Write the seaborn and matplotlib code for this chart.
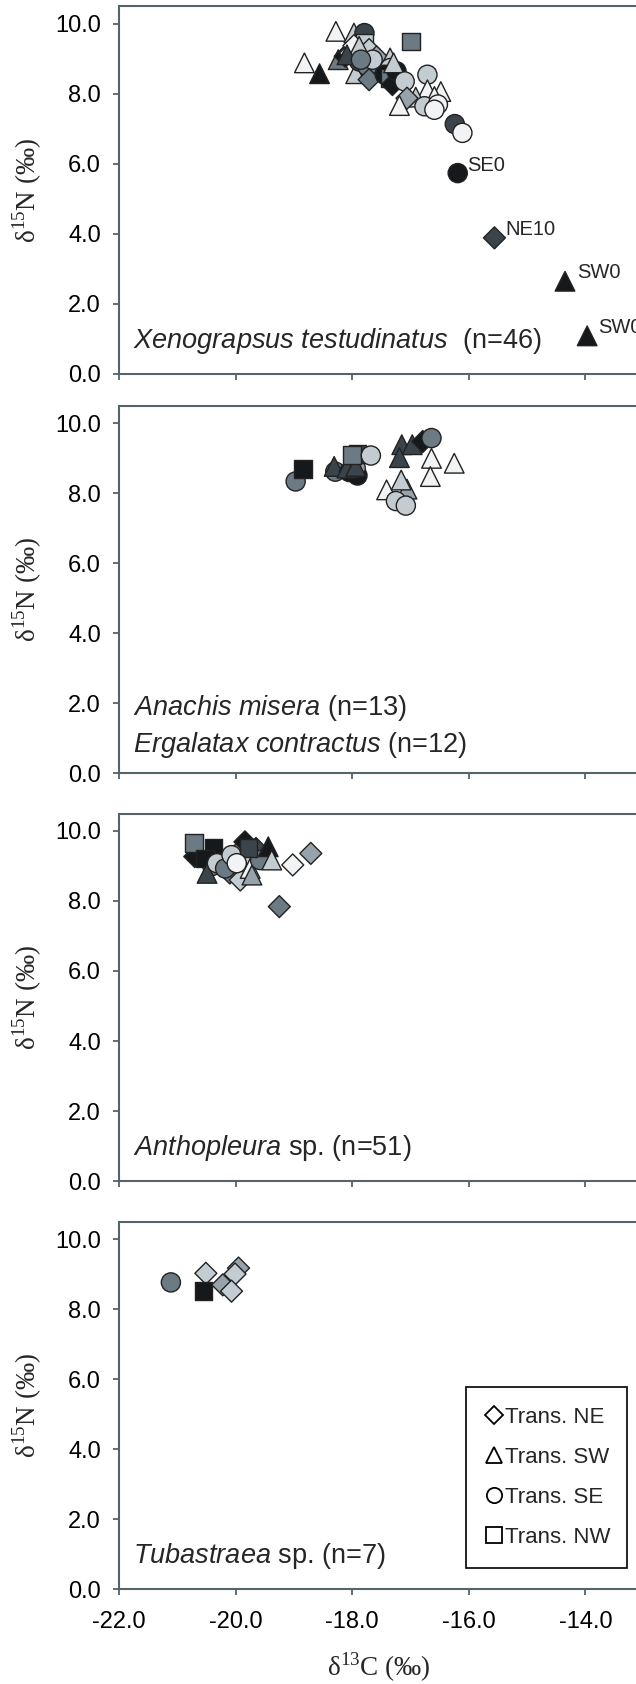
import numpy as np
import pandas as pd
import matplotlib
matplotlib.use("Agg")
import matplotlib.pyplot as plt
from matplotlib.lines import Line2D
import seaborn as sns

sns.set_style("ticks")
plt.rcParams["font.family"] = ["Liberation Sans", "DejaVu Sans"]
plt.rcParams["mathtext.fontset"] = "custom"
plt.rcParams["mathtext.rm"] = "Liberation Serif"
plt.rcParams["mathtext.it"] = "Liberation Sans:italic"

# ── Data (δ13C, δ15N, transect, grey shade) ───────────────────
xeno_c = [-18.28, -17.97, -17.79, -17.79, -16.99, -18.82, -18.56, -18.24, -18.12, -18.03,
          -17.97, -17.94, -17.88, -17.74, -17.71, -17.58, -17.71, -17.88, -17.65, -18.09,
          -17.35, -17.35, -17.44, -17.29, -17.36, -17.31, -17.24, -17.29, -17.10, -16.71,
          -16.71, -16.48, -16.59, -16.91, -17.06, -17.19, -16.76, -16.53, -16.59, -16.24,
          -16.11, -16.19, -15.56, -14.35, -13.97, -17.85]
xeno_n = [9.79, 9.74, 9.74, 9.46, 9.50, 8.89, 8.58, 8.98, 9.08, 9.17,
          9.38, 8.58, 8.93, 8.79, 9.27, 9.06, 8.41, 9.36, 8.98, 9.12,
          9.03, 8.74, 8.55, 8.65, 8.46, 8.27, 8.65, 8.89, 8.36, 8.55,
          8.12, 8.07, 7.93, 7.91, 7.88, 7.67, 7.65, 7.70, 7.55, 7.14,
          6.89, 5.74, 3.89, 2.65, 1.09, 8.98]
xeno_t = ["SW", "SW", "SE", "NW", "NW", "SW", "SW", "SW", "NE", "NE",
          "NE", "SW", "SE", "SE", "NE", "NE", "NE", "SW", "SE", "SW",
          "SW", "SE", "SE", "SW", "NW", "NE", "SE", "SW", "SE", "SE",
          "SW", "SW", "SW", "SW", "NE", "SW", "SE", "SE", "SE", "SE",
          "SE", "SE", "NE", "SW", "SW", "SE"]
xeno_g = ["w", "l", "dd", "l", "d", "w", "k", "d", "k", "l",
          "w", "l", "dd", "d", "l", "m", "d", "l", "l", "dd",
          "l", "l", "k", "k", "d", "k", "k", "l", "l", "l",
          "w", "w", "w", "l", "m", "w", "l", "w", "w", "dd",
          "w", "k", "dd", "k", "k", "d"]

gast_c = [-18.97, -18.84, -18.29, -18.31, -18.05, -17.91, -17.94, -18.09, -17.94, -17.91,
          -18.00, -17.68, -17.15, -16.97, -17.19, -16.79, -16.64, -16.64, -16.25, -16.66,
          -17.41, -17.06, -17.16, -17.25, -17.08]
gast_n = [8.33, 8.69, 8.61, 8.76, 8.60, 8.50, 8.71, 8.71, 8.76, 9.11,
          9.09, 9.07, 9.38, 9.38, 9.01, 9.47, 9.57, 8.99, 8.85, 8.47,
          8.09, 8.11, 8.37, 7.77, 7.64]
gast_t = ["SE", "NW", "SE", "SW", "SE", "SE", "SE", "SW", "SW", "NW",
          "NW", "SE", "SW", "SW", "SW", "NE", "SE", "SW", "SW", "SW",
          "SW", "SW", "SW", "SE", "SE"]
gast_g = ["d", "k", "d", "dd", "k", "k", "m", "dd", "dd", "dd",
          "d", "l", "dd", "dd", "dd", "k", "d", "w", "w", "w",
          "w", "m", "l", "l", "l"]

anth_c = [-20.70, -20.25, -20.40, -20.10, -19.95, -19.70, -19.90, -19.65, -19.84, -20.38,
          -20.71, -20.52, -20.49, -20.32, -20.18, -20.07, -19.92, -19.75, -19.72, -19.58,
          -19.44, -19.38, -19.78, -19.98, -19.02, -18.71, -19.25]
anth_n = [9.27, 9.20, 9.00, 8.80, 9.35, 9.20, 8.85, 9.50, 9.69, 9.51,
          9.65, 9.22, 8.79, 9.08, 8.93, 9.31, 8.60, 8.93, 8.74, 9.17,
          9.55, 9.17, 9.51, 9.08, 9.03, 9.36, 7.84]
anth_t = ["NE", "SE", "SE", "NE", "SE", "SE", "SW", "NE", "NE", "NW",
          "NW", "NW", "SW", "SE", "SE", "SE", "NE", "SW", "SW", "SE",
          "SW", "SW", "NW", "SE", "NE", "NE", "NE"]
anth_g = ["k", "m", "d", "d", "m", "l", "l", "dd", "k", "k",
          "d", "k", "dd", "l", "d", "l", "l", "w", "m", "d",
          "k", "l", "dd", "w", "w", "m", "d"]

tuba_c = [-21.11, -20.51, -20.55, -20.22, -19.95, -20.01, -20.07]
tuba_n = [8.76, 9.02, 8.52, 8.69, 9.17, 9.00, 8.51]
tuba_t = ["SE", "NE", "NW", "NE", "NE", "NE", "NE"]
tuba_g = ["d", "l", "k", "m", "m", "l", "l"]

point_labels = [("SE0", -16.02, 5.95), ("NE10", -15.38, 4.12),
                ("SW0", -14.14, 2.90), ("SW0", -13.78, 1.32)]

species = [
    [r"$\mathit{Xenograpsus\ testudinatus}$  (n=46)"],
    [r"$\mathit{Anachis\ misera}$ (n=13)", r"$\mathit{Ergalatax\ contractus}$ (n=12)"],
    [r"$\mathit{Anthopleura}$ sp. (n=51)"],
    [r"$\mathit{Tubastraea}$ sp. (n=7)"],
]

transects = ["NE", "SW", "SE", "NW"]
legend_labels = ["Trans. NE", "Trans. SW", "Trans. SE", "Trans. NW"]
markers = {"NE": "D", "SW": "^", "SE": "o", "NW": "s"}
sizes = {"NE": 125, "SW": 200, "SE": 190, "NW": 160}
shades = {"w": "#f1f3f4", "l": "#c3ccd0", "m": "#97a3aa",
          "d": "#6b7a83", "dd": "#3a444a", "k": "#15191b"}

panels = [
    pd.DataFrame({"c13": xeno_c, "n15": xeno_n, "tr": xeno_t, "shade": xeno_g}),
    pd.DataFrame({"c13": gast_c, "n15": gast_n, "tr": gast_t, "shade": gast_g}),
    pd.DataFrame({"c13": anth_c, "n15": anth_n, "tr": anth_t, "shade": anth_g}),
    pd.DataFrame({"c13": tuba_c, "n15": tuba_n, "tr": tuba_t, "shade": tuba_g}),
]

# ── Figure ────────────────────────────────────────────────────
W, H = 636, 1684
fig = plt.figure(figsize=(W / 100, H / 100), dpi=100)

spine_col = "#56636b"
left_px, px_per_unit = 119, 58.3
xmin, xmax = -22, -13.1
ax_w = (xmax - xmin) * px_per_unit / W
ax_h = 10.5 * 35.0 / H
zero_px = [374, 773, 1181, 1589]

for i, df in enumerate(panels):
    ax = fig.add_axes([left_px / W, 1 - zero_px[i] / H, ax_w, ax_h])
    sns.scatterplot(data=df, x="c13", y="n15", hue="shade", style="tr", size="tr",
                    palette=shades, markers=markers, sizes=sizes,
                    edgecolor="#222222", linewidth=1.0, alpha=1, legend=False, ax=ax)
    ax.set_xlim(xmin, xmax)
    ax.set_ylim(0, 10.5)
    ax.set_xticks([-22, -20, -18, -16, -14])
    ax.set_yticks([0, 2, 4, 6, 8, 10])
    ax.set_yticklabels([f"{v:.1f}" for v in [0, 2, 4, 6, 8, 10]])
    if i == 3:
        ax.set_xticklabels([f"{v:.1f}" for v in [-22, -20, -18, -16, -14]])
        ax.set_xlabel(r"δ$^{13}$C (‰)", family="Liberation Serif",
                      fontsize=19.5, labelpad=12)
    else:
        ax.set_xticklabels([])
        ax.set_xlabel("")
    ax.set_ylabel(r"δ$^{15}$N (‰)", family="Liberation Serif", fontsize=19.5, labelpad=8)
    for s in ax.spines.values():
        s.set_color(spine_col)
        s.set_linewidth(1.5)
    ax.tick_params(axis="both", direction="out", length=4, width=1.3,
                   color=spine_col, labelsize=17, labelcolor="black", pad=9)
    ax.tick_params(axis="x", pad=12)

    lines = species[i]
    if len(lines) == 1:
        ax.text(-21.76, 0.95, lines[0], fontsize=19.5, va="center")
    else:
        ax.text(-21.76, 1.85, lines[0], fontsize=19.5, va="center")
        ax.text(-21.76, 0.80, lines[1], fontsize=19.5, va="center")

    if i == 0:
        for lab, lx, ly in point_labels:
            ax.text(lx, ly, lab, fontsize=14.5, va="center", clip_on=False)

# ── Legend (open symbols) ─────────────────────────────────────
handles = [Line2D([], [], marker=markers[t], ls="none", mfc="white", mec="black",
                  mew=1.3, ms=11 if t != "NE" else 9) for t in transects]
leg = fig.legend(handles, legend_labels, loc="upper left", mode="expand",
                 bbox_to_anchor=(466 / W, 1 - 1575 / H, 161 / W, 188 / H),
                 bbox_transform=fig.transFigure,
                 frameon=True, fancybox=False, edgecolor="black", framealpha=1,
                 fontsize=16, labelspacing=0.85, handletextpad=0.15, handlelength=0.7,
                 borderpad=0.9, borderaxespad=0)
leg.get_frame().set_linewidth(1.2)

fig.savefig("out.png", dpi=100)
plt.close()
